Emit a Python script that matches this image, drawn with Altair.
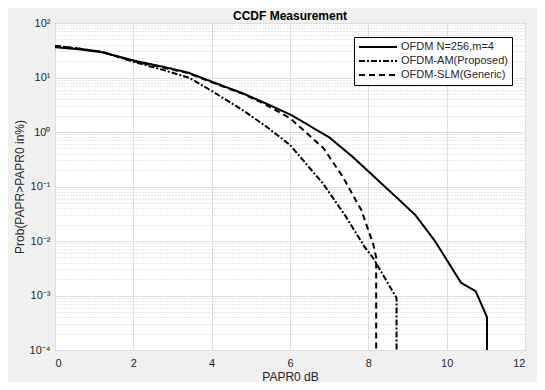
import altair as alt
import pandas as pd

series_names = ["OFDM N=256,m=4", "OFDM-AM(Proposed)", "OFDM-SLM(Generic)"]

# PAPR0 (dB) and CCDF (%)
x_ofdm = [0, 0.6, 1.2, 2.0, 2.8, 3.4, 4.0, 4.8, 5.4, 6.0, 6.5, 7.0, 7.6, 8.3, 8.7, 9.2, 9.7, 10.37, 10.74, 11.03, 11.03]
y_ofdm = [36, 33, 29, 20.5, 15.5, 12.3, 8.4, 5.1, 3.3, 2.1, 1.3, 0.8, 0.35, 0.12, 0.065, 0.03, 0.01, 0.0017, 0.0012, 0.0004, 0.0001]

x_am = [0, 0.6, 1.2, 2.0, 2.8, 3.45, 4.03, 4.8, 5.4, 6.0, 6.84, 7.4, 7.9, 8.12, 8.72, 8.72]
y_am = [38, 34, 29.5, 19.5, 13.5, 9.7, 5.5, 2.5, 1.25, 0.58, 0.114, 0.03, 0.0079, 0.0049, 0.0009, 0.0001]

x_slm = [0, 0.6, 1.2, 2.0, 2.8, 3.4, 4.0, 4.8, 5.3, 6.0, 6.85, 7.35, 7.82, 8.12, 8.2, 8.2]
y_slm = [38, 34, 29.5, 20, 15, 12, 8.2, 5.0, 3.4, 1.8, 0.51, 0.15, 0.037, 0.009, 0.005, 0.0001]

x_ticks = [0, 2, 4, 6, 8, 10, 12]
y_major = [1e-4, 1e-3, 1e-2, 1e-1, 1e0, 1e1, 1e2]
y_minor = [m * 10.0 ** e for e in range(-4, 2) for m in range(2, 10)]

rows = []
for name, xs, ys in zip(series_names, [x_ofdm, x_am, x_slm], [y_ofdm, y_am, y_slm]):
    for i, (a, b) in enumerate(zip(xs, ys)):
        rows.append({"series": name, "x": a, "y": b, "order": i})
df = pd.DataFrame(rows)

FONT = "Liberation Sans"
TXT = "#262626"

e_expr = "round(log(datum.value)/LN10)"
label_expr = (
    f"abs(log(datum.value)/LN10 - {e_expr}) > 0.01 ? '' : "
    f"({e_expr}==2 ? '10²' : {e_expr}==1 ? '10¹' : {e_expr}==0 ? '10⁰' : "
    f"{e_expr}==-1 ? '10⁻¹' : {e_expr}==-2 ? '10⁻²' : {e_expr}==-3 ? '10⁻³' : '10⁻⁴')"
)
minor_test = f"abs(log(datum.value)/LN10 - {e_expr}) > 0.01"

chart = (
    alt.Chart(df)
    .mark_line(color="black", strokeWidth=2, clip=True)
    .encode(
        x=alt.X(
            "x:Q",
            scale=alt.Scale(domain=[0, 12], nice=False),
            axis=alt.Axis(
                values=x_ticks,
                title="PAPR0 dB",
                titleFont=FONT,
                titleFontSize=12,
                titleFontWeight="normal",
                titleColor=TXT,
                titlePadding=3,
                labelFont=FONT,
                labelFontSize=11,
                labelColor=TXT,
                labelPadding=7,
                ticks=False,
                domain=False,
                grid=True,
                gridColor="#dedede",
                gridWidth=1,
            ),
        ),
        y=alt.Y(
            "y:Q",
            scale=alt.Scale(type="log", domain=[1e-4, 100], nice=False),
            axis=alt.Axis(
                values=y_major + y_minor,
                labelExpr=label_expr,
                title="Prob(PAPR>PAPR0 in%)",
                titleFont=FONT,
                titleFontSize=12,
                titleFontWeight="normal",
                titleColor=TXT,
                titlePadding=3,
                labelFont=FONT,
                labelFontSize=11,
                labelColor=TXT,
                labelPadding=5,
                labelOverlap=False,
                ticks=False,
                domain=False,
                grid=True,
                gridColor={"condition": {"test": minor_test, "value": "#cfcfcf"}, "value": "#dedede"},
                gridDash={"condition": {"test": minor_test, "value": [1, 2]}, "value": []},
            ),
        ),
        strokeDash=alt.StrokeDash(
            "series:N",
            scale=alt.Scale(domain=series_names, range=[[1, 0], [6, 2, 2, 2], [6, 4]]),
            legend=alt.Legend(
                title=None,
                orient="none",
                legendX=299,
                legendY=14,
                fillColor="white",
                strokeColor="black",
                padding=4,
                labelFont=FONT,
                labelFontSize=11,
                labelColor=TXT,
                symbolType="stroke",
                symbolStrokeColor="black",
                symbolStrokeWidth=2,
                symbolSize=1444,
                clipHeight=12,
                rowPadding=2,
                labelOffset=3,
            ),
        ),
        order="order:Q",
        detail="series:N",
    )
    .properties(
        width=470,
        height=327,
        autosize=alt.AutoSizeParams(type="none"),
        padding={"left": 47, "top": 15, "right": 12, "bottom": 32},
        background="#f0f0f0",
        title=alt.TitleParams(
            "CCDF Measurement",
            font=FONT,
            fontSize=12,
            fontWeight="bold",
            color="black",
            anchor="middle",
            offset=-6,
        ),
    )
    .configure_view(stroke="#262626", strokeWidth=1, fill="white")
)

chart.save("out.html", embed_options={"renderer": "svg", "actions": False})
